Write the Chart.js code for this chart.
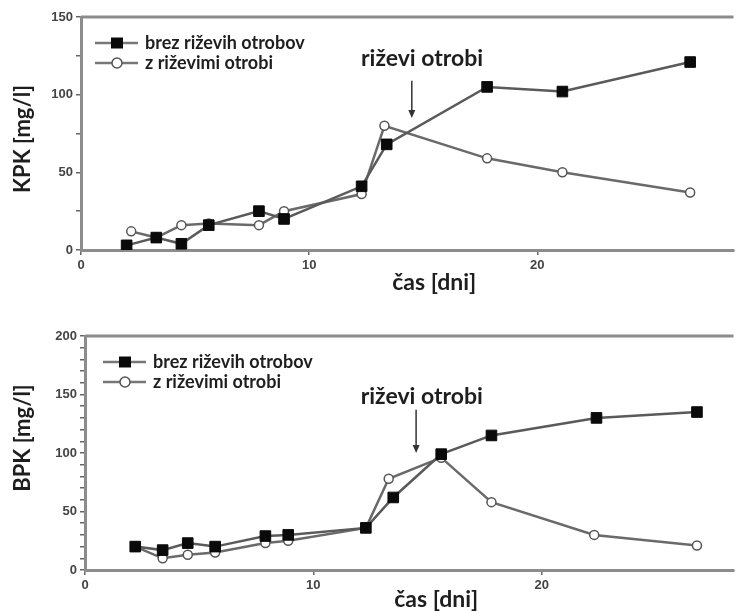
<!DOCTYPE html>
<html>
<head>
<meta charset="utf-8">
<script src="https://cdn.jsdelivr.net/npm/chart.js@4.4.1/dist/chart.umd.min.js"></script>
<style>
    html, body { margin: 0; padding: 0; background: #fff; }
    .okno { position: absolute; left: 0; width: 742px; }
    #okno-kpk { top: 0; height: 305px; }
    #okno-bpk { top: 305px; height: 306px; }
</style>
</head>
<body>
<div class="okno" id="okno-kpk"><canvas id="chart-kpk"></canvas></div>
<div class="okno" id="okno-bpk"><canvas id="chart-bpk"></canvas></div>
<script>
// KPK - brez / z riževimi otrobi (odčitano s slike)
const kpkBrezDni = [2.0, 3.3, 4.4, 5.6, 7.8, 8.9, 12.3, 13.4, 17.8, 21.1, 26.7];
const kpkBrez    = [3, 8, 4, 16, 25, 20, 41, 68, 105, 102, 121];
const kpkZDni    = [2.2, 3.3, 4.4, 5.6, 7.8, 8.9, 12.3, 13.3, 17.8, 21.1, 26.7];
const kpkZ       = [12, 8, 16, 17, 16, 25, 36, 80, 59, 50, 37];

// BPK
const bpkBrezDni = [2.2, 3.4, 4.5, 5.7, 7.9, 8.9, 12.3, 13.5, 15.6, 17.8, 22.4, 26.8];
const bpkBrez    = [20, 17, 23, 20, 29, 30, 36, 62, 99, 115, 130, 135];
const bpkZDni    = [2.2, 3.4, 4.5, 5.7, 7.9, 8.9, 12.3, 13.3, 15.6, 17.8, 22.3, 26.8];
const bpkZ       = [20, 10, 13, 15, 23, 25, 36, 78, 96, 58, 30, 21];

const oznakaBrez = 'brez riževih otrobov';
const oznakaZ = 'z riževimi otrobi';
const xTicks = [0, 10, 20];

function tocke(dni, vrednosti) {
    return dni.map((d, i) => ({ x: d, y: vrednosti[i] }));
}

// okvir, legenda, puščica in naslovi osi
const okrasje = {
    id: 'okrasje',
    afterDraw(chart, args, o) {
        const { ctx, chartArea: { left, top, right, bottom }, scales: { x, y } } = chart;
        ctx.save();

        // zgornja črta okvirja
        ctx.strokeStyle = '#8c8c8c';
        ctx.lineWidth = 3;
        ctx.beginPath();
        ctx.moveTo(left, top);
        ctx.lineTo(right, top);
        ctx.stroke();

        // legenda
        chart.data.datasets.forEach((ds, i) => {
            const ly = top + 26 + i * 20;
            const lx = left + o.legendaX;
            ctx.strokeStyle = '#777';
            ctx.lineWidth = 2.5;
            ctx.beginPath();
            ctx.moveTo(lx, ly);
            ctx.lineTo(lx + 43, ly);
            ctx.stroke();
            ctx.fillStyle = ds.pointBackgroundColor;
            ctx.strokeStyle = ds.pointBorderColor;
            ctx.lineWidth = ds.pointBorderWidth;
            ctx.beginPath();
            if (ds.pointStyle === 'rect') {
                ctx.rect(lx + 22 - 6, ly - 5.5, 12, 11);
                ctx.fill();
            } else {
                ctx.arc(lx + 22, ly, 5, 0, Math.PI * 2);
                ctx.fill();
                ctx.stroke();
            }
            ctx.fillStyle = '#1e1e1e';
            ctx.font = 'bold 18px Lato';
            ctx.textAlign = 'left';
            ctx.textBaseline = 'middle';
            ctx.fillText(ds.label, lx + 50, ly);
        });

        // puščica "riževi otrobi"
        const ax = x.getPixelForValue(o.puscica.x);
        const y1 = y.getPixelForValue(o.puscica.od);
        const y2 = y.getPixelForValue(o.puscica.do);
        ctx.strokeStyle = '#333';
        ctx.lineWidth = 1.5;
        ctx.beginPath();
        ctx.moveTo(ax, y1);
        ctx.lineTo(ax, y2 - 6);
        ctx.stroke();
        ctx.fillStyle = '#333';
        ctx.beginPath();
        ctx.moveTo(ax - 3.5, y2 - 8);
        ctx.lineTo(ax + 3.5, y2 - 8);
        ctx.lineTo(ax, y2);
        ctx.closePath();
        ctx.fill();

        ctx.fillStyle = '#1e1e1e';
        ctx.font = 'bold 23px Lato';
        ctx.textAlign = 'center';
        ctx.textBaseline = 'middle';
        ctx.fillText('riževi otrobi', x.getPixelForValue(o.napis.x), y.getPixelForValue(o.napis.y));

        // naslov osi x
        ctx.font = 'bold 23px Lato';
        ctx.fillText('čas [dni]', (left + right) / 2 + 27, bottom + o.xNaslovY);

        // naslov osi y
        ctx.translate(23, o.yNaslovY);
        ctx.rotate(-Math.PI / 2);
        ctx.font = 'bold 22px Lato';
        ctx.fillText(o.yNaslov, 0, 0);
        ctx.restore();
    }
};

function ustvariGraf(id, brez, z, nastavitve) {
    const ctx = document.getElementById(id);
    return new Chart(ctx, {
        type: 'line',
        data: {
            datasets: [
                {
                    label: oznakaBrez,
                    data: brez,
                    borderColor: '#5a5a5a',
                    borderWidth: 2.5,
                    pointStyle: 'rect',
                    pointRadius: 7.5,
                    pointBackgroundColor: '#0a0a0a',
                    pointBorderColor: '#0a0a0a',
                    pointBorderWidth: 1,
                    tension: 0,
                    fill: false
                },
                {
                    label: oznakaZ,
                    data: z,
                    borderColor: '#6a6a6a',
                    borderWidth: 2.5,
                    pointStyle: 'circle',
                    pointRadius: 4.5,
                    pointBackgroundColor: '#ffffff',
                    pointBorderColor: '#555',
                    pointBorderWidth: 1.5,
                    tension: 0,
                    fill: false
                }
            ]
        },
        options: {
            responsive: true,
            maintainAspectRatio: false,
            animation: false,
            layout: { padding: { top: nastavitve.zgoraj, right: 0, left: 0, bottom: 0 } },
            plugins: {
                legend: { display: false },
                tooltip: { enabled: false },
                okrasje: nastavitve.okrasje
            },
            scales: {
                x: {
                    type: 'linear',
                    min: 0,
                    max: nastavitve.xMax,
                    afterBuildTicks(scale) {
                        scale.ticks = xTicks.map(v => ({ value: v }));
                    },
                    afterFit(scale) { scale.height = nastavitve.xVisina; },
                    ticks: {
                        color: '#444',
                        font: { family: 'Liberation Sans', weight: 'bold', size: 13 },
                        padding: 3,
                        maxRotation: 0,
                        autoSkip: false
                    },
                    grid: { drawOnChartArea: false, tickLength: 5, color: '#666', lineWidth: 1.5 },
                    border: { color: '#8c8c8c', width: 3 }
                },
                y: {
                    min: 0,
                    max: nastavitve.yMax,
                    afterFit(scale) { scale.width = nastavitve.yLevo; },
                    ticks: {
                        stepSize: nastavitve.yKorak,
                        color: '#444',
                        font: { family: 'Liberation Sans', weight: 'bold', size: 13 },
                        padding: 3,
                        autoSkip: false,
                        callback: v => (v % 50 === 0 ? v : '')
                    },
                    grid: { drawOnChartArea: false, tickLength: 5, color: '#666', lineWidth: 1.5 },
                    border: { color: '#8c8c8c', width: 3 }
                }
            }
        },
        plugins: [okrasje]
    });
}

document.addEventListener('DOMContentLoaded', function() {
    ustvariGraf('chart-kpk', tocke(kpkBrezDni, kpkBrez), tocke(kpkZDni, kpkZ), {
        zgoraj: 17, xMax: 28.6, yMax: 150, yKorak: 25, yLevo: 81, xVisina: 55,
        okrasje: {
            legendaX: 14,
            puscica: { x: 14.5, od: 109, do: 85 },
            napis: { x: 14.95, y: 123 },
            xNaslovY: 33,
            yNaslovY: 139,
            yNaslov: 'KPK [mg/l]'
        }
    });
    ustvariGraf('chart-bpk', tocke(bpkBrezDni, bpkBrez), tocke(bpkZDni, bpkZ), {
        zgoraj: 31, xMax: 28.4, yMax: 200, yKorak: 10, yLevo: 85, xVisina: 41,
        okrasje: {
            legendaX: 18,
            puscica: { x: 14.5, od: 137, do: 100 },
            napis: { x: 14.75, y: 148 },
            xNaslovY: 30,
            yNaslovY: 133,
            yNaslov: 'BPK [mg/l]'
        }
    });
});
</script>
</body>
</html>
